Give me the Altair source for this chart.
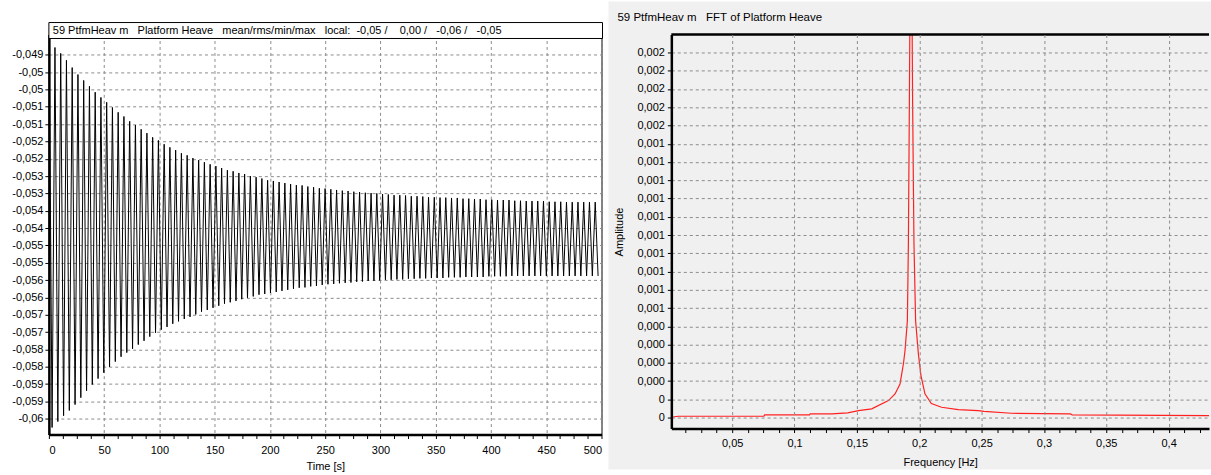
import altair as alt
import pandas as pd

FONT = "Liberation Sans"

# ---------------- time record: Platform Heave [m] ----------------
# crest and trough level of every oscillation cycle, in order
crest_levels = [
    -0.04868, -0.04879, -0.04896, -0.04916, -0.04937, -0.04957, -0.04974, -0.04991,
    -0.05008, -0.05023, -0.05037, -0.05052, -0.05066, -0.05078, -0.05092, -0.05103,
    -0.05115, -0.05126, -0.05138, -0.05147, -0.05158, -0.05167, -0.05175, -0.05184,
    -0.05190, -0.05198, -0.05204, -0.05210, -0.05216, -0.05221, -0.05227, -0.05233,
    -0.05236, -0.05241, -0.05244, -0.05250, -0.05253, -0.05257, -0.05262, -0.05264,
    -0.05267, -0.05270, -0.05273, -0.05276, -0.05277, -0.05280, -0.05282, -0.05285,
    -0.05286, -0.05288, -0.05290, -0.05292, -0.05293, -0.05295, -0.05296, -0.05298,
    -0.05299, -0.05300, -0.05302, -0.05303, -0.05305, -0.05305, -0.05306, -0.05308,
    -0.05308, -0.05309, -0.05311, -0.05311, -0.05312, -0.05312, -0.05313, -0.05313,
    -0.05315, -0.05315, -0.05316, -0.05316, -0.05318, -0.05318, -0.05319, -0.05319,
    -0.05319, -0.05321, -0.05321, -0.05322, -0.05322, -0.05322, -0.05322, -0.05324,
    -0.05324, -0.05324, -0.05325, -0.05325, -0.05325, -0.05325, -0.05325, -0.05325,
]
trough_levels = [
    -0.05975, -0.05958, -0.05941, -0.05926, -0.05909, -0.05889, -0.05869, -0.05851,
    -0.05834, -0.05817, -0.05800, -0.05785, -0.05771, -0.05759, -0.05748, -0.05736,
    -0.05725, -0.05713, -0.05702, -0.05693, -0.05685, -0.05676, -0.05669, -0.05662,
    -0.05656, -0.05649, -0.05641, -0.05636, -0.05630, -0.05624, -0.05618, -0.05614,
    -0.05610, -0.05605, -0.05601, -0.05597, -0.05592, -0.05590, -0.05587, -0.05584,
    -0.05581, -0.05578, -0.05575, -0.05572, -0.05571, -0.05568, -0.05567, -0.05564,
    -0.05562, -0.05561, -0.05559, -0.05558, -0.05557, -0.05555, -0.05554, -0.05552,
    -0.05552, -0.05551, -0.05549, -0.05549, -0.05548, -0.05548, -0.05546, -0.05546,
    -0.05545, -0.05545, -0.05544, -0.05544, -0.05544, -0.05542, -0.05542, -0.05542,
    -0.05541, -0.05541, -0.05541, -0.05541, -0.05539, -0.05539, -0.05539, -0.05539,
    -0.05538, -0.05538, -0.05538, -0.05538, -0.05538, -0.05538, -0.05538, -0.05538,
    -0.05538, -0.05538, -0.05538, -0.05538, -0.05538, -0.05538, -0.05538, -0.05538,
]
first_crest_time = 0.3   # s
half_period = 2.6        # s, crest to trough

time_labels = ["0", "50", "100", "150", "200", "250", "300", "350", "400", "450", "500"]
heave_labels = [
    "-0,049", "-0,05", "-0,05", "-0,051", "-0,051", "-0,052", "-0,052", "-0,053",
    "-0,053", "-0,054", "-0,054", "-0,055", "-0,055", "-0,056", "-0,056", "-0,057",
    "-0,057", "-0,058", "-0,058", "-0,059", "-0,059", "-0,06",
]
heave_top_tick = -0.049
heave_tick_step = 0.0005

header_text = ("59 PtfmHeav m   Platform Heave   mean/rms/min/max   local:  "
               "-0,05 /    0,00 /   -0,06 /   -0,05").replace(" ", "\u00a0")

# ---------------- spectrum: FFT of Platform Heave ----------------
fft_freq = [
    0.0012, 0.0067, 0.0754, 0.0760, 0.1120, 0.1126, 0.1300, 0.1426, 0.1513, 0.1619,
    0.1753, 0.1806, 0.1846, 0.1873, 0.1886, 0.1905, 0.1913, 0.1921, 0.1934, 0.1947,
    0.1958, 0.1971, 0.1993, 0.2014, 0.2046, 0.2097, 0.2179, 0.2313, 0.2473, 0.2520,
    0.2739, 0.3212, 0.3227, 0.4324,
]
fft_amp = [
    0.0000016, 0.0000071, 0.0000071, 0.0000148, 0.0000148, 0.0000200, 0.0000200,
    0.0000260, 0.0000380, 0.0000475, 0.0000929, 0.0001295, 0.0001841, 0.0002934,
    0.0003661, 0.000530, 0.000949, 0.001723, 0.0031, 0.001723, 0.000949, 0.000530,
    0.000350, 0.000230, 0.000130, 0.0000765, 0.0000563, 0.0000437, 0.0000380,
    0.0000340, 0.0000235, 0.0000200, 0.0000148, 0.0000110,
]
freq_labels = ["0,05", "0,1", "0,15", "0,2", "0,25", "0,3", "0,35", "0,4"]
amp_labels = ["0", "0", "0,000", "0,000", "0,000", "0,000"] + ["0,001"] * 10 + ["0,002"] * 5
amp_tick_step = 0.0001

fft_title = "59 PtfmHeav m   FFT of Platform Heave".replace(" ", "\u00a0")

# ---------------- geometry ----------------
W1, H1 = 554, 401      # time plot
W2, H2 = 539, 395      # spectrum plot
TOP = 33               # plot tops from page top
LEFT = 48              # time plot left from page left
GRID = "#8c8c8c"
PANEL = "#f0f0f0"


def js_list(items):
    return "[" + ",".join("'" + s + "'" for s in items) + "]"


# time series table: crest, trough, crest, trough ...
ts_t, ts_v = [], []
for k, (c, tr) in enumerate(zip(crest_levels, trough_levels)):
    ts_t.append(first_crest_time + 2 * k * half_period)
    ts_v.append(c)
    ts_t.append(first_crest_time + (2 * k + 1) * half_period)
    ts_v.append(tr)
ts = pd.DataFrame({"t": ts_t, "v": ts_v})

one = pd.DataFrame({"k": [0]})

time_ticks = [i * 12.5 for i in range(41)]
heave_ticks = [heave_top_tick - i * heave_tick_step for i in range(len(heave_labels))]

time_axis = alt.Axis(
    values=time_ticks,
    labelExpr="datum.value % 50 === 0 ? " + js_list(time_labels) + "[round(datum.value / 50)] : ''",
    grid=True, gridDash=[3, 3], gridColor=GRID,
    gridOpacity={"condition": {"test": "datum.value % 50 === 0", "value": 1}, "value": 0},
    tickSize=4, labelPadding=6, domainWidth=2.5, title="Time [s]", titlePadding=5,
)
heave_axis = alt.Axis(
    values=heave_ticks,
    labelExpr=js_list(heave_labels) + "[round((" + str(heave_top_tick) + " - datum.value) / "
    + str(heave_tick_step) + ")]",
    grid=True, gridDash=[3, 3], gridColor=GRID,
    tickSize=4, labelPadding=2, domainWidth=2.5, title=None,
)

# keeps the page's left/top/bottom margins fixed
frame_left = alt.Chart(one).mark_rect(fill="white", fillOpacity=0, clip=False).encode(
    x=alt.value(-LEFT), x2=alt.value(0), y=alt.value(-TOP), y2=alt.value(475 - TOP)
)
header_box = alt.Chart(one).mark_rect(fill="white", stroke="black", strokeWidth=1, clip=False).encode(
    x=alt.value(0), x2=alt.value(W1 + 1), y=alt.value(-12), y2=alt.value(4)
)
header_label = alt.Chart(one).mark_text(
    align="left", baseline="middle", font=FONT, fontSize=11, color="black", clip=False
).encode(x=alt.value(4), y=alt.value(-4), text=alt.value(header_text))
heave_line = alt.Chart(ts).mark_line(color="black", strokeWidth=1, clip=True).encode(
    x=alt.X("t:Q", scale=alt.Scale(domain=[0, 500], nice=False, zero=False), axis=time_axis),
    y=alt.Y("v:Q", scale=alt.Scale(domain=[-0.059953, -0.048416], nice=False, zero=False), axis=heave_axis),
)
left = alt.layer(frame_left, header_box, header_label, heave_line).properties(
    width=W1, height=H1, view=alt.ViewBackground(fill="white", stroke="black", strokeWidth=1)
)

# ---------------- spectrum panel ----------------
fft = pd.DataFrame({"f": fft_freq, "a": fft_amp})
freq_ticks = [k / 80 for k in range(1, 35)]
amp_ticks = [k * amp_tick_step for k in range(len(amp_labels))]

freq_axis = alt.Axis(
    values=freq_ticks,
    labelExpr="round(datum.value * 80) % 4 === 0 ? " + js_list(freq_labels)
    + "[round(datum.value * 20) - 1] : ''",
    grid=True, gridDash=[3, 3], gridColor=GRID,
    gridOpacity={"condition": {"test": "round(datum.value * 80) % 4 === 0", "value": 1}, "value": 0},
    tickSize=4, labelPadding=5, domainWidth=2.5, title="Frequency [Hz]", titlePadding=8, zindex=1,
)
amp_axis = alt.Axis(
    values=amp_ticks,
    labelExpr=js_list(amp_labels) + "[round(datum.value / " + str(amp_tick_step) + ")]",
    grid=True, gridDash=[3, 3], gridColor=GRID,
    tickSize=4, labelPadding=3, domainWidth=2.5, title="Amplitude", titlePadding=12, zindex=1,
)

panel_bg = alt.Chart(one).mark_rect(fill=PANEL, clip=False).encode(
    x=alt.value(-63), x2=alt.value(W2 + 2), y=alt.value(-TOP), y2=alt.value(469 - TOP)
)
fft_label = alt.Chart(one).mark_text(
    align="left", baseline="middle", font=FONT, fontSize=11.5, color="black", clip=False
).encode(x=alt.value(-54), y=alt.value(-17), text=alt.value(fft_title))
fft_line = alt.Chart(fft).mark_line(color="#ff2020", strokeWidth=1.2, clip=True).encode(
    x=alt.X("f:Q", scale=alt.Scale(domain=[0.0012, 0.4324], nice=False, zero=False), axis=freq_axis),
    y=alt.Y("a:Q", scale=alt.Scale(domain=[-0.0000601, 0.0020984], nice=False, zero=False), axis=amp_axis),
)
top_edge = alt.Chart(one).mark_rule(color="black", strokeWidth=2.5).encode(
    x=alt.value(0), x2=alt.value(W2), y=alt.value(0)
)
right = alt.layer(panel_bg, fft_label, fft_line, top_edge).properties(
    width=W2, height=H2, view=alt.ViewBackground(fill=PANEL, stroke=None)
)

chart = (
    alt.hconcat(left, right, spacing=70, bounds="flush")
    .properties(padding=0)
    .configure(background="white")
    .configure_axis(
        labelFont=FONT, titleFont=FONT, labelFontSize=11, titleFontSize=11,
        labelColor="black", titleColor="black", titleFontWeight="normal",
        tickColor="black", domainColor="black",
    )
)

chart.save("out.html", embed_options={"renderer": "svg", "actions": False})
